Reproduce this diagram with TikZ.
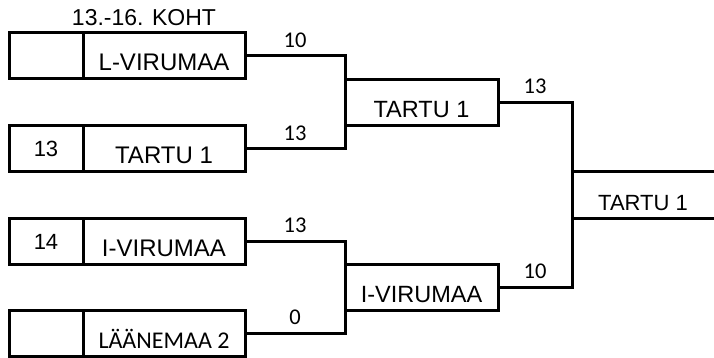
\documentclass[tikz,border=0pt]{standalone}
\usepackage{fontspec}
\setmainfont{Liberation Sans}
\newfontfamily\calibri{Carlito}
\usetikzlibrary{positioning}

\begin{document}
\begin{tikzpicture}[x=1pt, y=-1pt, line width=3pt,
	seedbox/.style={draw, minimum width=74pt, minimum height=46pt, inner sep=0pt, outer sep=0pt, font=\fontsize{22}{26}\selectfont},
	teambox/.style={draw, minimum width=162pt, minimum height=46pt, inner sep=0pt, outer sep=0pt, text height=32pt, text depth=2pt, font=\fontsize{24}{28}\selectfont},
	winbox/.style={draw, minimum width=153pt, minimum height=46pt, inner sep=0pt, outer sep=0pt, text height=32pt, text depth=2pt, font=\fontsize{23.5}{28}\selectfont},
	score/.style={inner sep=2pt, font=\calibri\fontsize{22.5}{26}\selectfont}]
	\useasboundingbox (0,0) rectangle (714,358);

	% first round
	\foreach \i/\y/\seed/\team in {1/56/{}/L-VIRUMAA, 2/149/13/TARTU 1, 3/241.5/14/I-VIRUMAA, 4/333.5/{}/{\calibri LÄÄNEMAA 2}}{
	\node[seedbox] (seed\i) at (46,\y) {\seed};
	\node[teambox, right=0pt of seed\i] (team\i) {\team};}

	\node[anchor=base, font=\fontsize{23}{27}\selectfont] (title) at (144,26) {13.-16. KOHT};

	% second round
	\node[winbox, anchor=west] (semi1) at (345,102.5) {TARTU 1};
	\node[winbox, anchor=west] (semi2) at (345,287) {I-VIRUMAA};

	%final (open to the right)
	\node[minimum width=142pt, minimum height=46pt, inner sep=0pt, outer sep=0pt, text height=32pt, text depth=2pt, font=\fontsize{22}{26}\selectfont] (final) at (643,195) {TARTU 1};
	\draw (final.north west) -- (final.north east);
	\draw (final.south west) -- (final.south east);

	% brackets with scores
	\draw (team1.east) -| node[score, pos=0.25, above=5pt] {10} (semi1.west)
		|- node[score, pos=0.75, above=5pt] {13} (team2.east);
	\draw (team3.east) -| node[score, pos=0.25, above=5pt] {13} (semi2.west)
		|- node[score, pos=0.75, above=5pt] {0} (team4.east);
	\draw (semi1.east) -| node[score, pos=0.25, above=5pt] {13} (final.west)
		|- node[score, pos=0.75, above=5pt] {10} (semi2.east);

\end{tikzpicture}
\end{document}
